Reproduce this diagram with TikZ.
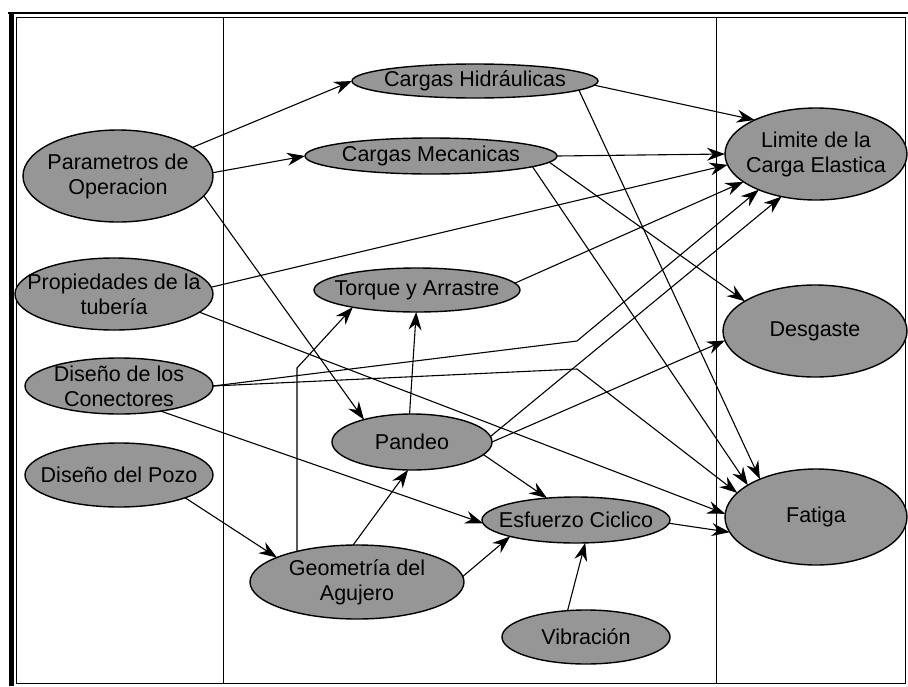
\documentclass[tikz,border=0pt]{standalone}
\usepackage{fontspec}
\setmainfont{Liberation Sans}
\usetikzlibrary{arrows.meta,shapes.geometric,backgrounds}
\definecolor{bubblegray}{RGB}{150,150,150}

\begin{document}
\begin{tikzpicture}[x=1pt,y=-1pt,
  bubble/.style={ellipse,draw=black,line width=1.4pt,fill=bubblegray,inner sep=0pt,outer sep=0pt},
  lbl/.style={font=\fontsize{21.5}{25}\selectfont,align=center,inner sep=0pt,text=black},
  link/.style={line width=1.1pt,-{Stealth[length=18pt,width=13pt,inset=6pt]}},
  frameline/.style={line width=1pt,draw=black}
]
\useasboundingbox (0,0) rectangle (908,686);

% outer frame and column dividers
\draw[line width=5pt] (11,13) -- (11,686);
\draw[line width=1.5pt] (8,13) -- (908,13);
\draw[frameline] (16,17) rectangle (905,683);
\draw[frameline] (223,17) -- (223,683);
\draw[frameline] (716,17) -- (716,683);

% left column: inputs
\node[bubble,minimum width=190pt,minimum height=92pt] (param) at (118,176) {};
\node[lbl] (param-t) at (param) {Parametros de\\Operacion};
\node[bubble,minimum width=198pt,minimum height=72pt] (prop) at (114,294) {};
\node[lbl] (prop-t) at (prop) {Propiedades de la\\tubería};
\node[bubble,minimum width=188pt,minimum height=56pt] (conn) at (119,386) {};
\node[lbl] (conn-t) at (conn) {Diseño de los\\Conectores};
\node[bubble,minimum width=188pt,minimum height=64pt] (pozo) at (119,475) {};
\node[lbl] (pozo-t) at (pozo) {Diseño del Pozo};

% middle column: mechanisms
\node[bubble,minimum width=246pt,minimum height=34pt] (hidr) at (475,81) {};
\node[lbl] (hidr-t) at (hidr) {Cargas Hidráulicas};
\node[bubble,minimum width=252pt,minimum height=36pt] (mec) at (431,156) {};
\node[lbl] (mec-t) at (mec) {Cargas Mecanicas};
\node[bubble,minimum width=206pt,minimum height=44pt] (torq) at (417,290) {};
\node[lbl] (torq-t) at (torq) {Torque y Arrastre};
\node[bubble,minimum width=160pt,minimum height=56pt] (pand) at (412,442) {};
\node[lbl] (pand-t) at (pand) {Pandeo};
\node[bubble,minimum width=188pt,minimum height=46pt] (esf) at (576,520) {};
\node[lbl] (esf-t) at (esf) {Esfuerzo Ciclico};
\node[bubble,minimum width=214pt,minimum height=74pt] (geom) at (357,582) {};
\node[lbl] (geom-t) at (geom) {Geometría del\\Agujero};
\node[bubble,minimum width=168pt,minimum height=54pt] (vib) at (586,637) {};
\node[lbl] (vib-t) at (vib) {Vibración};

% right column: failure modes
\node[bubble,minimum width=182pt,minimum height=92pt] (lim) at (816,154) {};
\node[lbl] (lim-t) at (lim) {Limite de la\\Carga Elastica};
\node[bubble,minimum width=184pt,minimum height=92pt] (desg) at (815,331) {};
\node[lbl] (desg-t) at (desg) {Desgaste};
\node[bubble,minimum width=182pt,minimum height=96pt] (fat) at (816,517) {};
\node[lbl] (fat-t) at (fat) {Fatiga};

% bend points of the routed connectors
\coordinate (bendA) at (577,341);
\coordinate (bendB) at (577,369);
\coordinate (bendC) at (297,368);

\begin{pgfonlayer}{background}
  \draw[link] (param.21) -- (hidr.west);
  \draw[link] (param.2) -- (mec.west);
  \draw[link] (param.-13) -- (pand.155);

  \draw[link] (hidr.-2) -- (lim.151);
  \draw[link] (hidr.-5) -- (fat.146);

  \draw[link] (mec.east) -- (lim.180);
  \draw[link] (mec.-3) -- (desg.157);
  \draw[link] (mec.-6) -- (fat.155);

  \draw[link] (prop.4) -- (lim.187);
  \draw[link] (prop.-12) -- (fat.178);

  \draw[link] (conn.east) -- (bendA) -- (lim.212);
  \draw[link] (conn.east) -- (bendB) -- (fat.163);
  \draw[link] (conn.-31) -- (esf.182);

  \draw[link] (pozo.-19) -- (geom.163);

  \draw[link] (bendC |- geom.center) -- (bendC) -- (torq.195);
  \draw[link] (geom.96) -- (pand.262);
  \draw[link] (geom.3) -- (esf.194);

  \draw[link] (pand.95) -- (torq.268);
  \draw[link] (pand.-10) -- (esf.143);
  \draw[link] (pand.4) -- (lim.231);
  \draw[link] (pand.0) -- (desg.186);

  \draw[link] (torq.4) -- (lim.201);
  \draw[link] (esf.-2) -- (fat.190);
  \draw[link] (vib.125) -- (esf.292);
\end{pgfonlayer}
\end{tikzpicture}
\end{document}
